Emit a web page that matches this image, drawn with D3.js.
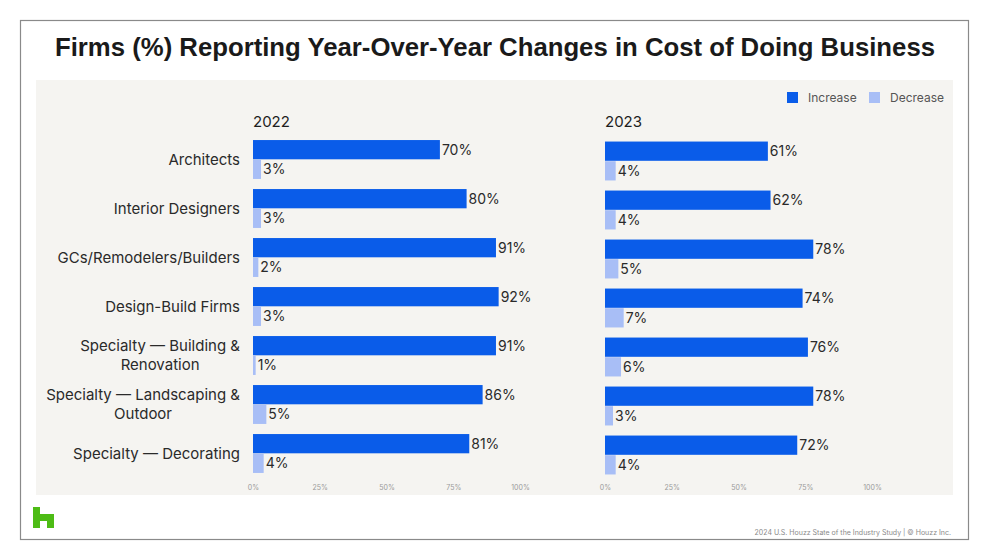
<!DOCTYPE html>
<html>
<head>
<meta charset="utf-8">
<script src="https://cdn.jsdelivr.net/npm/d3@7"></script>
<style>
  body { margin: 0; background: #fff; }
  svg { display: block; font-family: Inter, "Noto Sans", sans-serif; }
</style>
</head>
<body>
<div id="chart"></div>
<script>
// data
const categories = [
  ["Architects"],
  ["Interior Designers"],
  ["GCs/Remodelers/Builders"],
  ["Design-Build Firms"],
  ["Specialty \u2014 Building &", "Renovation"],
  ["Specialty \u2014 Landscaping &", "Outdoor"],
  ["Specialty \u2014 Decorating"]
];
const years = ["2022", "2023"];
const series = ["Increase", "Decrease"];
const increase2022 = [70, 80, 91, 92, 91, 86, 81];
const decrease2022 = [3, 3, 2, 3, 1, 5, 4];
const increase2023 = [61, 62, 78, 74, 76, 78, 72];
const decrease2023 = [4, 4, 5, 7, 6, 3, 4];
const tickValues = [0, 25, 50, 75, 100];

const width = 990, height = 560;
const color = d3.scaleOrdinal().domain(series).range(["#0a5ce9", "#a8bef6"]);

const svg = d3.select("#chart").append("svg")
  .attr("width", width).attr("height", height)
  .attr("viewBox", [0, 0, width, height]);

// frame
svg.append("rect").attr("x", 20.5).attr("y", 20.5).attr("width", 948).attr("height", 519)
  .attr("fill", "#fff").attr("stroke", "#8a8a8a").attr("stroke-width", 1.2);

// title
svg.append("text")
  .attr("x", 55).attr("y", 56)
  .style("font-family", "'Liberation Sans', Arial, sans-serif")
  .style("font-weight", "bold").style("font-size", "25px").attr("fill", "#1a1a1a")
  .attr("textLength", 880).attr("lengthAdjust", "spacingAndGlyphs")
  .text("Firms (%) Reporting Year-Over-Year Changes in Cost of Doing Business");

// panel
svg.append("rect").attr("x", 36).attr("y", 80).attr("width", 917).attr("height", 415)
  .attr("fill", "#f5f4f1");

// legend
const legend = svg.append("g").selectAll("g").data(series).join("g")
  .attr("transform", (d, i) => `translate(${787 + i * 82},92)`);
legend.append("rect").attr("width", 11).attr("height", 11).attr("fill", d => color(d));
legend.append("text").attr("x", 21).attr("y", 10).style("font-size", "12px")
  .attr("fill", "#555").text(d => d);

const labels = categories.map(c => c.join(" "));
const y = d3.scaleBand().domain(labels).range([135, 478]).paddingInner(0.19).paddingOuter(0.095);
const ySub = d3.scaleBand().domain(series).range([0, y.bandwidth()]).padding(0.02);

// category labels
const catG = svg.append("g");
categories.forEach((lines, i) => {
  const cy = y(labels[i]) + y.bandwidth() / 2;
  const t = catG.append("text").attr("text-anchor", "middle")
    .style("font-size", "15px").attr("fill", "#2a2a2a");
  lines.forEach((l, j) => {
    t.append("tspan").attr("y", cy + 5 + (j - (lines.length - 1) / 2) * 19).text(l);
  });
  let w = 0;
  t.selectAll("tspan").each(function() { w = Math.max(w, this.getComputedTextLength()); });
  t.selectAll("tspan").attr("x", 240 - w / 2);
});

const panels = [
  { year: years[0], x0: 253, dy: 0, inc: increase2022, dec: decrease2022 },
  { year: years[1], x0: 605, dy: 1.5, inc: increase2023, dec: decrease2023 }
];

panels.forEach(p => {
  const x = d3.scaleLinear().domain([0, 100]).range([p.x0, p.x0 + 267]);
  const g = svg.append("g").attr("transform", `translate(0,${p.dy})`);

  svg.append("text").attr("x", p.x0).attr("y", 127)
    .style("font-size", "15px").attr("fill", "#1e1e1e").text(p.year);

  const rows = labels.map((c, i) => [
    { cat: c, s: "Increase", v: p.inc[i] },
    { cat: c, s: "Decrease", v: p.dec[i] }
  ]).flat();

  g.selectAll("rect").data(rows).join("rect")
    .attr("x", x(0))
    .attr("y", d => y(d.cat) + ySub(d.s))
    .attr("width", d => x(d.v) - x(0))
    .attr("height", ySub.bandwidth())
    .attr("fill", d => color(d.s));

  g.selectAll("text.val").data(rows).join("text").attr("class", "val")
    .attr("x", d => x(d.v) + 2)
    .attr("y", d => y(d.cat) + ySub(d.s) + ySub.bandwidth() / 2 + 5)
    .style("font-size", "14px").attr("fill", "#2a2a2a")
    .text(d => d.v + "%");

  const axis = svg.append("g").attr("transform", "translate(0,478)")
    .call(d3.axisBottom(x).tickValues(tickValues).tickFormat(d => d + "%").tickSize(0).tickPadding(7));
  axis.select(".domain").remove();
  axis.selectAll("text").style("font-size", "7px").attr("fill", "#9a9a9a")
    .style("font-family", "Inter, sans-serif");
});

// logo
svg.append("path")
  .attr("transform", "translate(33,507)")
  .attr("d", "M0,0H7V7H21V21H14V14H7V21H0Z")
  .attr("fill", "#4dbc15");

// footer
svg.append("text").attr("x", 951).attr("y", 535).attr("text-anchor", "end")
  .style("font-size", "7px").attr("fill", "#8a8a8a")
  .text("2024 U.S. Houzz State of the Industry Study  |  \u00a9 Houzz Inc.");
</script>
</body>
</html>
